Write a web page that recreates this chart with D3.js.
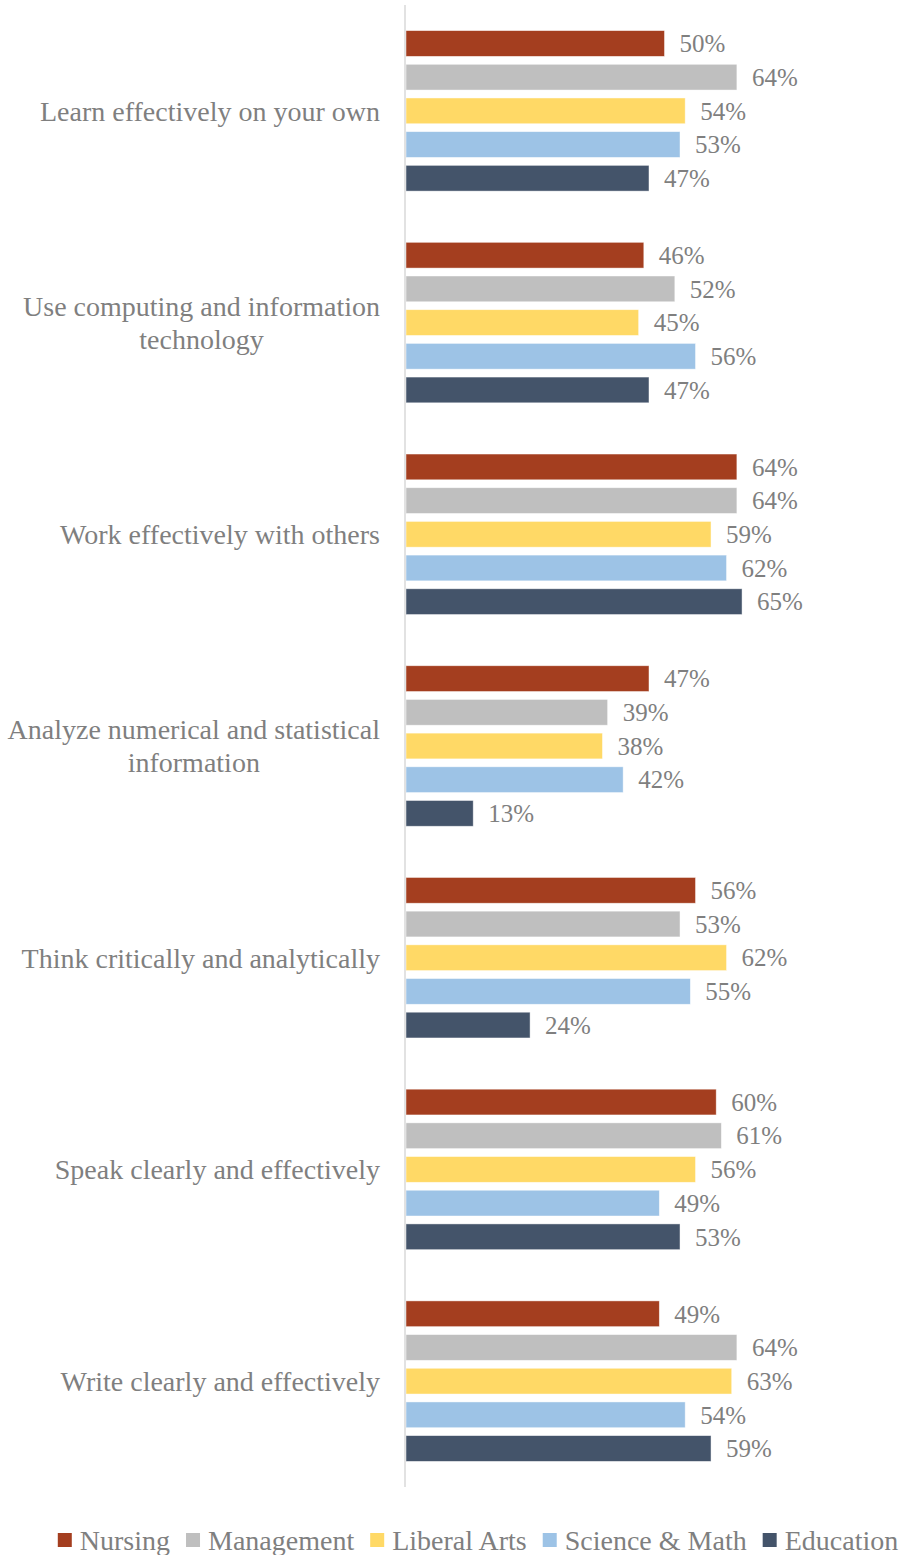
<!DOCTYPE html>
<html>
<head>
<meta charset="utf-8">
<script src="https://cdn.jsdelivr.net/npm/d3@7"></script>
<style>
  html, body { margin: 0; padding: 0; background: #ffffff; }
  svg { display: block; }
  text { font-family: "Liberation Serif", "DejaVu Serif", serif; fill: #7f7f7f; }
</style>
</head>
<body>
<svg id="chart" width="905" height="1555"></svg>
<script>
// Skill areas (top to bottom) and the share of students in each program
const categories = [
  "Learn effectively on your own",
  "Use computing and information technology",
  "Work effectively with others",
  "Analyze numerical and statistical information",
  "Think critically and analytically",
  "Speak clearly and effectively",
  "Write clearly and effectively"
];
// Wrapped label lines for each skill area
const categoryLines = [
  ["Learn effectively on your own"],
  ["Use computing and information", "technology"],
  ["Work effectively with others"],
  ["Analyze numerical and statistical", "information"],
  ["Think critically and analytically"],
  ["Speak clearly and effectively"],
  ["Write clearly and effectively"]
];
const seriesNames = ["Nursing", "Management", "Liberal Arts", "Science & Math", "Education"];
const nursing     = [50, 46, 64, 47, 56, 60, 49];
const management  = [64, 52, 64, 39, 53, 61, 64];
const liberalArts = [54, 45, 59, 38, 62, 56, 63];
const scienceMath = [53, 56, 62, 42, 55, 49, 54];
const education   = [47, 47, 65, 13, 24, 53, 59];
const seriesColors = ["#a43e1f", "#bfbfbf", "#ffd966", "#9dc3e6", "#44546a"];

const seriesValues = [nursing, management, liberalArts, scienceMath, education];

const svg = d3.select("#chart");

const axisX = 405;
const x = d3.scaleLinear().domain([0, 70]).range([axisX + 1, axisX + 1 + 70 * 5.17]);

const y0 = d3.scaleBand().domain(categories).range([5, 1487]).padding(0);
const y1 = d3.scaleBand().domain(seriesNames).range([0, y0.bandwidth()])
  .paddingInner(0.235).paddingOuter(0.76);

// Bars
const groups = svg.append("g").selectAll("g")
  .data(categories)
  .join("g")
  .attr("transform", d => `translate(0,${y0(d)})`);

groups.each(function(cat, ci) {
  const g = d3.select(this);
  const rows = seriesNames.map((s, si) => ({ s, si, v: seriesValues[si][ci] }));
  g.selectAll("rect")
    .data(rows)
    .join("rect")
    .attr("x", x(0))
    .attr("y", d => y1(d.s))
    .attr("width", d => x(d.v) - x(0))
    .attr("height", y1.bandwidth())
    .attr("fill", d => seriesColors[d.si])
    .attr("stroke", "#ffffff")
    .attr("stroke-opacity", 0.6)
    .attr("stroke-width", 0.75);
  g.selectAll("text.value")
    .data(rows)
    .join("text")
    .attr("class", "value")
    .attr("x", d => x(d.v) + 15)
    .attr("y", d => y1(d.s) + y1.bandwidth() / 2)
    .attr("dy", "0.35em")
    .attr("font-size", 25)
    .text(d => d.v + "%");
});

// Category labels: widest line ends at the axis gap, other lines centred under it
const labelG = svg.append("g");
categories.forEach((cat, ci) => {
  const lines = categoryLines[ci];
  const cy = y0(cat) + y1(seriesNames[2]) + y1.bandwidth() / 2;
  const lh = 33;
  const t = labelG.append("text")
    .attr("font-size", 28)
    .attr("text-anchor", "middle");
  const spans = lines.map((ln, li) => t.append("tspan")
    .attr("x", 0)
    .attr("y", cy + (li - (lines.length - 1) / 2) * lh)
    .attr("dy", "0.35em")
    .text(ln));
  const w = d3.max(spans, s => s.node().getComputedTextLength());
  spans.forEach(s => s.attr("x", 380 - w / 2));
});

// Vertical category axis line
svg.append("line")
  .attr("x1", axisX).attr("x2", axisX)
  .attr("y1", 5).attr("y2", 1487)
  .attr("stroke", "#d9d9d9")
  .attr("stroke-width", 1.5);

// Legend
const legend = svg.append("g");
const sw = 14, gapSw = 8, gapItem = 16;
let cursor = 0;
seriesNames.forEach((name, i) => {
  const it = legend.append("g");
  it.append("rect").attr("width", sw).attr("height", sw).attr("y", -sw / 2)
    .attr("fill", seriesColors[i]);
  const tx = it.append("text").attr("x", sw + gapSw).attr("dy", "0.35em")
    .attr("font-size", 28).text(name);
  const w = sw + gapSw + tx.node().getComputedTextLength();
  it.attr("transform", `translate(${cursor},0)`);
  cursor += w + gapItem;
});
const total = cursor - gapItem;
legend.attr("transform", `translate(${478 - total / 2},1540)`);
</script>
</body>
</html>
